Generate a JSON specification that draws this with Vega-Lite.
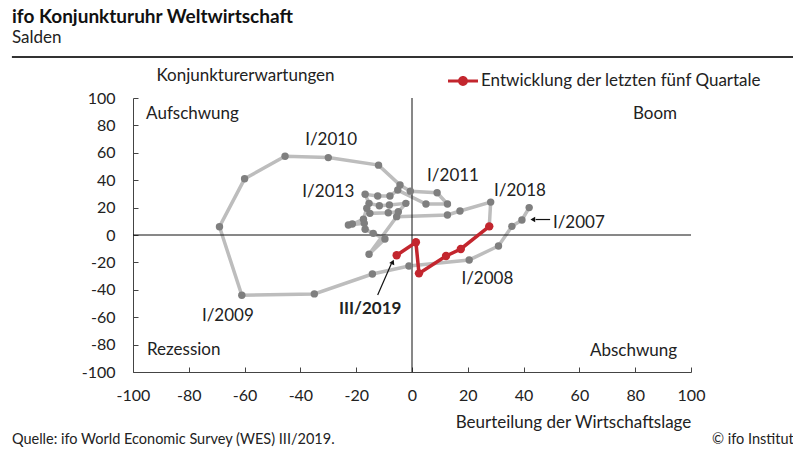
{
  "$schema": "https://vega.github.io/schema/vega-lite/v6.json",
  "width": 558,
  "height": 274,
  "autosize": "none",
  "padding": {"left": 133, "top": 98, "right": 102, "bottom": 78},
  "background": "white",
  "config": {
    "font": "Lato",
    "view": {"stroke": null},
    "axis": {
      "domainColor": "#444",
      "domainWidth": 1,
      "tickColor": "#444",
      "tickSize": -5,
      "grid": false,
      "labelFontSize": 16,
      "labelColor": "#222",
      "labelOverlap": false,
      "labelFlush": false,
      "titleFontSize": 17,
      "titleFontWeight": "normal",
      "titleColor": "#222"
    },
    "axisY": {"labelOverlap": false},
    "axisQuantitative": {"labelOverlap": false}
  },
  "title": {
    "text": "ifo Konjunkturuhr Weltwirtschaft",
    "subtitle": "Salden",
    "anchor": "start",
    "frame": "group",
    "dx": -121,
    "offset": 10,
    "fontSize": 19,
    "fontWeight": "bold",
    "color": "#111",
    "subtitleFontSize": 17,
    "subtitleColor": "#222",
    "subtitlePadding": 3
  },
  "datasets": {
    "one": [{}],
    "gray": [
      {"t": 1, "x": 42, "y": 20},
      {"t": 2, "x": 39.4, "y": 11},
      {"t": 3, "x": 35.8, "y": 6.3},
      {"t": 4, "x": 31, "y": -8},
      {"t": 5, "x": 20.5, "y": -18.2},
      {"t": 6, "x": -1.1, "y": -22.6},
      {"t": 7, "x": -14.2, "y": -28.5},
      {"t": 8, "x": -35, "y": -43},
      {"t": 9, "x": -61, "y": -44},
      {"t": 10, "x": -69, "y": 6},
      {"t": 11, "x": -60, "y": 41},
      {"t": 12, "x": -45.5, "y": 57.5},
      {"t": 13, "x": -30, "y": 56.5},
      {"t": 14, "x": -12, "y": 51},
      {"t": 15, "x": -4.3, "y": 36.5},
      {"t": 16, "x": -0.6, "y": 32},
      {"t": 17, "x": 9, "y": 30.8},
      {"t": 18, "x": 12.7, "y": 22.6},
      {"t": 19, "x": 5, "y": 22.6},
      {"t": 20, "x": -5.1, "y": 32.8},
      {"t": 21, "x": -7.9, "y": 28.5},
      {"t": 22, "x": -12.3, "y": 28.5},
      {"t": 23, "x": -16.8, "y": 29.7},
      {"t": 24, "x": -15.4, "y": 23.1},
      {"t": 25, "x": -11.7, "y": 21.4},
      {"t": 26, "x": -8.1, "y": 21.9},
      {"t": 27, "x": -2.2, "y": 23.1},
      {"t": 28, "x": -4.9, "y": 17},
      {"t": 29, "x": -8.5, "y": 16.3},
      {"t": 30, "x": -15.1, "y": 15.8},
      {"t": 31, "x": -16.2, "y": 19.5},
      {"t": 32, "x": -17.4, "y": 11.5},
      {"t": 33, "x": -21.4, "y": 8},
      {"t": 34, "x": -22.8, "y": 7.3},
      {"t": 35, "x": -17.1, "y": 8.5},
      {"t": 36, "x": -16.8, "y": 4.2},
      {"t": 37, "x": -13.9, "y": 1.2},
      {"t": 38, "x": -9.7, "y": -2.9},
      {"t": 39, "x": -15.4, "y": -14},
      {"t": 40, "x": -5.5, "y": 13.4},
      {"t": 41, "x": 12.7, "y": 14.6},
      {"t": 42, "x": 17.2, "y": 17.5},
      {"t": 43, "x": 28.2, "y": 24},
      {"t": 44, "x": 27.7, "y": 6.3}
    ],
    "red": [
      {"t": 1, "x": 27.7, "y": 6.3},
      {"t": 2, "x": 17.5, "y": -10.2},
      {"t": 3, "x": 12.2, "y": -15.3},
      {"t": 4, "x": 2.5, "y": -28},
      {"t": 5, "x": 1.4, "y": -5.3},
      {"t": 6, "x": -5.5, "y": -14.8}
    ],
    "quadLeft": [
      {"text": "Aufschwung", "x": -95.3, "y": 88.3},
      {"text": "Rezession", "x": -95, "y": -84}
    ],
    "quadRight": [
      {"text": "Boom", "x": 95, "y": 88.3},
      {"text": "Abschwung", "x": 95, "y": -85}
    ],
    "ann": [
      {"text": "I/2010", "x": -29, "y": 69.3},
      {"text": "I/2011", "x": 14.7, "y": 43},
      {"text": "I/2013", "x": -30, "y": 31.4},
      {"text": "I/2018", "x": 38.7, "y": 32},
      {"text": "I/2008", "x": 27, "y": -32},
      {"text": "I/2009", "x": -66, "y": -59}
    ],
    "annLeft": [
      {"text": "I/2007", "x": 50.5, "y": 8.8}
    ],
    "annBold": [
      {"text": "III/2019", "x": -15, "y": -54}
    ],
    "arrows": [
      {"x": 49.5, "y": 11.3, "x2": 44.3, "y2": 11.3},
      {"x": -12.3, "y": -43.8, "x2": -7.4, "y2": -21}
    ]
  },
  "layer": [
    {
      "data": {"name": "gray"},
      "mark": {"type": "line", "color": "#bdbdbd", "strokeWidth": 3.5},
      "encoding": {
        "x": {
          "field": "x", "type": "quantitative",
          "scale": {"domain": [-100, 100], "nice": false, "zero": false},
          "axis": {
            "title": "Beurteilung der Wirtschaftslage",
            "values": [-100, -80, -60, -40, -20, 0, 20, 40, 60, 80, 100],
            "labelExpr": "replace(datum.label, '\u2212', '-')",
            "labelOverlap": false,
            "labelFlush": false,
            "labelPadding": 20,
            "titleX": 440, "titleY": 50,
            "titleAlign": "center", "titleBaseline": "middle"
          }
        },
        "y": {
          "field": "y", "type": "quantitative",
          "scale": {"domain": [-100, 100], "nice": false, "zero": false},
          "axis": {
            "title": "Konjunkturerwartungen",
            "values": [-100, -80, -60, -40, -20, 0, 20, 40, 60, 80, 100],
            "tickCount": 11,
            "labelExpr": "replace(datum.label, '\u2212', '-')",
            "labelOverlap": false,
            "labelFlush": false,
            "labelSeparation": 0,
            "labelPadding": 23,
            "titleAngle": 0,
            "titleX": 112, "titleY": -23,
            "titleAlign": "center", "titleBaseline": "middle"
          }
        },
        "order": {"field": "t", "type": "quantitative"}
      }
    },
    {
      "data": {"name": "one"},
      "mark": {"type": "rule", "color": "#111", "strokeWidth": 1},
      "encoding": {"y": {"datum": 0, "scale": {"domain": [-100, 100], "nice": false, "zero": false}}}
    },
    {
      "data": {"name": "one"},
      "mark": {"type": "rule", "color": "#111", "strokeWidth": 1},
      "encoding": {"x": {"datum": 0, "scale": {"domain": [-100, 100], "nice": false, "zero": false}}}
    },
    {
      "data": {"name": "gray"},
      "mark": {"type": "circle", "color": "#7f7f7f", "opacity": 1, "size": 55},
      "encoding": {
        "x": {"field": "x", "type": "quantitative", "scale": {"domain": [-100, 100], "nice": false, "zero": false}},
        "y": {"field": "y", "type": "quantitative", "scale": {"domain": [-100, 100], "nice": false, "zero": false}}
      }
    },
    {
      "data": {"name": "red"},
      "mark": {"type": "line", "color": "#c3262e", "strokeWidth": 3.5},
      "encoding": {
        "x": {"field": "x", "type": "quantitative", "scale": {"domain": [-100, 100], "nice": false, "zero": false}},
        "y": {"field": "y", "type": "quantitative", "scale": {"domain": [-100, 100], "nice": false, "zero": false}},
        "order": {"field": "t", "type": "quantitative"}
      }
    },
    {
      "data": {"name": "red"},
      "mark": {"type": "point", "filled": true, "opacity": 1, "size": 70, "shape": "circle"},
      "encoding": {
        "x": {"field": "x", "type": "quantitative", "scale": {"domain": [-100, 100], "nice": false, "zero": false}},
        "y": {"field": "y", "type": "quantitative", "scale": {"domain": [-100, 100], "nice": false, "zero": false}},
        "color": {
          "datum": "Entwicklung der letzten fünf Quartale",
          "scale": {"range": ["#c3262e"]},
          "legend": {
            "title": null,
            "orient": "none",
            "legendX": 315,
            "legendY": -32,
            "padding": 0,
            "symbolType": "M-1,-0.1L1,-0.1L1,0.1L-1,0.1Z M-0.33,0 A0.33,0.33 0 1,1 0.33,0 A0.33,0.33 0 1,1 -0.33,0Z",
            "symbolSize": 900,
            "symbolFillColor": "#c3262e",
            "symbolStrokeColor": "#c3262e",
            "symbolStrokeWidth": 0,
            "symbolOpacity": 1,
            "labelFontSize": 17,
            "labelColor": "#222",
            "labelOffset": 3,
            "labelLimit": 400
          }
        }
      }
    },
    {
      "data": {"name": "arrows"},
      "mark": {"type": "rule", "color": "#111", "strokeWidth": 1.2},
      "encoding": {
        "x": {"field": "x", "type": "quantitative", "scale": {"domain": [-100, 100], "nice": false, "zero": false}},
        "y": {"field": "y", "type": "quantitative", "scale": {"domain": [-100, 100], "nice": false, "zero": false}},
        "x2": {"field": "x2"},
        "y2": {"field": "y2"}
      }
    },
    {
      "data": {"name": "one"},
      "mark": {"type": "point", "shape": "triangle-left", "filled": true, "color": "#111", "opacity": 1, "size": 30},
      "encoding": {
        "x": {"datum": 43.3, "scale": {"domain": [-100, 100], "nice": false, "zero": false}},
        "y": {"datum": 11.3, "scale": {"domain": [-100, 100], "nice": false, "zero": false}}
      }
    },
    {
      "data": {"name": "one"},
      "mark": {"type": "point", "shape": "triangle-up", "angle": 24.5, "filled": true, "color": "#111", "opacity": 1, "size": 30},
      "encoding": {
        "x": {"datum": -6.9, "scale": {"domain": [-100, 100], "nice": false, "zero": false}},
        "y": {"datum": -19.7, "scale": {"domain": [-100, 100], "nice": false, "zero": false}}
      }
    },
    {
      "data": {"name": "quadLeft"},
      "mark": {"type": "text", "align": "left", "baseline": "middle", "fontSize": 17, "color": "#222"},
      "encoding": {
        "x": {"field": "x", "type": "quantitative", "scale": {"domain": [-100, 100], "nice": false, "zero": false}},
        "y": {"field": "y", "type": "quantitative", "scale": {"domain": [-100, 100], "nice": false, "zero": false}},
        "text": {"field": "text"}
      }
    },
    {
      "data": {"name": "quadRight"},
      "mark": {"type": "text", "align": "right", "baseline": "middle", "fontSize": 17, "color": "#222"},
      "encoding": {
        "x": {"field": "x", "type": "quantitative", "scale": {"domain": [-100, 100], "nice": false, "zero": false}},
        "y": {"field": "y", "type": "quantitative", "scale": {"domain": [-100, 100], "nice": false, "zero": false}},
        "text": {"field": "text"}
      }
    },
    {
      "data": {"name": "ann"},
      "mark": {"type": "text", "align": "center", "baseline": "middle", "fontSize": 17, "color": "#222"},
      "encoding": {
        "x": {"field": "x", "type": "quantitative", "scale": {"domain": [-100, 100], "nice": false, "zero": false}},
        "y": {"field": "y", "type": "quantitative", "scale": {"domain": [-100, 100], "nice": false, "zero": false}},
        "text": {"field": "text"}
      }
    },
    {
      "data": {"name": "annLeft"},
      "mark": {"type": "text", "align": "left", "baseline": "middle", "fontSize": 17, "color": "#222"},
      "encoding": {
        "x": {"field": "x", "type": "quantitative", "scale": {"domain": [-100, 100], "nice": false, "zero": false}},
        "y": {"field": "y", "type": "quantitative", "scale": {"domain": [-100, 100], "nice": false, "zero": false}},
        "text": {"field": "text"}
      }
    },
    {
      "data": {"name": "annBold"},
      "mark": {"type": "text", "align": "center", "baseline": "middle", "fontSize": 17, "fontWeight": "bold", "color": "#222"},
      "encoding": {
        "x": {"field": "x", "type": "quantitative", "scale": {"domain": [-100, 100], "nice": false, "zero": false}},
        "y": {"field": "y", "type": "quantitative", "scale": {"domain": [-100, 100], "nice": false, "zero": false}},
        "text": {"field": "text"}
      }
    },
    {
      "data": {"name": "one"},
      "mark": {"type": "rule", "color": "#333", "strokeWidth": 2, "clip": false},
      "encoding": {
        "x": {"datum": -143.4, "scale": {"domain": [-100, 100], "nice": false, "zero": false}},
        "x2": {"datum": 140},
        "y": {"datum": 130, "scale": {"domain": [-100, 100], "nice": false, "zero": false}}
      }
    },
    {
      "data": {"name": "one"},
      "mark": {"type": "text", "align": "left", "baseline": "middle", "fontSize": 14.5, "color": "#222", "text": "Quelle: ifo World Economic Survey (WES) III/2019."},
      "encoding": {
        "x": {"datum": -143.4, "scale": {"domain": [-100, 100], "nice": false, "zero": false}},
        "y": {"datum": -149.6, "scale": {"domain": [-100, 100], "nice": false, "zero": false}}
      }
    },
    {
      "data": {"name": "one"},
      "mark": {"type": "text", "align": "left", "baseline": "middle", "fontSize": 14.5, "color": "#222", "text": "© ifo Institut"},
      "encoding": {
        "x": {"datum": 107.5, "scale": {"domain": [-100, 100], "nice": false, "zero": false}},
        "y": {"datum": -149.6, "scale": {"domain": [-100, 100], "nice": false, "zero": false}}
      }
    }
  ]
}
